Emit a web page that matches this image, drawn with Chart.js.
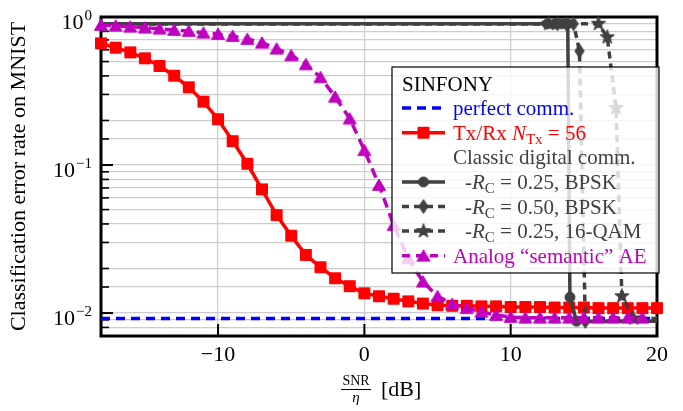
<!DOCTYPE html>
<html>
<head>
<meta charset="utf-8">
<script src="https://cdn.jsdelivr.net/npm/chart.js@4.4.1/dist/chart.umd.min.js"></script>
<style>
  html, body { margin: 0; padding: 0; background: #fff; }
</style>
</head>
<body>
<canvas id="chart" width="683" height="411"></canvas>
<script>
/* ------------------------------------------------------------------ */
/* Data */
/* ------------------------------------------------------------------ */
const snrTxRx = [-18, -17, -16, -15, -14, -13, -12, -11, -10, -9, -8, -7, -6, -5, -4, -3, -2, -1, 0,
                 1, 2, 3, 4, 5, 6, 7, 8, 9, 10, 11, 12, 13, 14, 15, 16, 17, 18, 19, 20];
const errTxRx = [0.664, 0.621, 0.577, 0.526, 0.467, 0.401, 0.335, 0.268, 0.204, 0.145, 0.102, 0.0685, 0.0459,
                 0.0333, 0.0247, 0.0204, 0.0172, 0.0152, 0.0136, 0.0130, 0.0125, 0.0120, 0.0116, 0.0113,
                 0.0112, 0.0112, 0.0111, 0.0111, 0.0110, 0.0110, 0.0110, 0.0109, 0.0109, 0.0109, 0.0108,
                 0.0108, 0.0108, 0.0108, 0.0108];

const snrAnalog = [-18, -17, -16, -15, -14, -13, -12, -11, -10, -9, -8, -7, -6, -5, -4, -3, -2, -1, 0,
                   1, 2, 3, 4, 5, 6, 7, 8, 9, 10, 11, 12, 13, 14, 15, 16, 17, 18, 19];
const errAnalog = [0.883, 0.873, 0.860, 0.847, 0.834, 0.817, 0.804, 0.783, 0.767, 0.744, 0.710, 0.670, 0.611,
                   0.551, 0.479, 0.392, 0.289, 0.206, 0.126, 0.0733, 0.0393, 0.0235, 0.0163, 0.0130, 0.0115,
                   0.0108, 0.0102, 0.0097, 0.0094, 0.0093, 0.0093, 0.0093, 0.0093, 0.0093, 0.0093, 0.0093,
                   0.0093, 0.0093];

const snrPerfect = [-18, 20];
const errPerfect = [0.0092, 0.0092];

const snrBpsk025 = [-18, 12.5, 13.0, 13.5, 13.9, 14.05, 14.5, 20];
const errBpsk025 = [0.9, 0.9, 0.9, 0.9, 0.9, 0.0128, 0.0088, 0.0088];

const snrBpsk050 = [-18, 13.2, 13.8, 14.3, 14.7, 15.1, 20];
const errBpsk050 = [0.9, 0.9, 0.9, 0.9, 0.589, 0.0088, 0.0088];

const snrQam = [-18, 12.6, 16.0, 16.6, 17.2, 17.6, 18.4, 20];
const errQam = [0.9, 0.9, 0.9, 0.73, 0.243, 0.013, 0.0092, 0.0092];

const xTicks = [-10, 0, 10, 20];
const xTickLabels = ['\u221210', '0', '10', '20'];
const yTicks = [1, 0.1, 0.01];
const yTickExps = ['0', '\u22121', '\u22122'];

/* ------------------------------------------------------------------ */
/* Styles */
/* ------------------------------------------------------------------ */
const FONT = '"Liberation Serif", "Times New Roman", serif';
const BLUE = '#0000ff';
const RED = '#ff0000';
const MAGENTA = '#bf00bf';
const GRAY = '#404040';

// Marker images (matplotlib-like filled markers)
const makeMarker = (shape, color) => {
   const c = document.createElement('canvas');
   c.width = 18; c.height = 18;
   const g = c.getContext('2d');
   g.fillStyle = color;
   g.strokeStyle = color;
   g.lineWidth = 1;
   g.translate(9, 9);
   g.beginPath();
   if (shape === 'square') {
      g.rect(-5.5, -5.5, 11, 11);
   } else if (shape === 'circle') {
      g.arc(0, 0, 5, 0, Math.PI * 2);
   } else if (shape === 'triangle') {
      g.moveTo(0, -6); g.lineTo(6.5, 5.3); g.lineTo(-6.5, 5.3); g.closePath();
   } else if (shape === 'diamond') {
      g.moveTo(0, -7); g.lineTo(4.6, 0); g.lineTo(0, 7); g.lineTo(-4.6, 0); g.closePath();
   } else if (shape === 'star') {
      for (let i = 0; i < 10; i++) {
         const r = i % 2 === 0 ? 7.5 : 3.1;
         const a = -Math.PI / 2 + i * Math.PI / 5;
         if (i === 0) g.moveTo(r * Math.cos(a), r * Math.sin(a));
         else g.lineTo(r * Math.cos(a), r * Math.sin(a));
      }
      g.closePath();
   }
   g.fill();
   g.stroke();
   return c;
};

const mkSquare = makeMarker('square', RED);
const mkTriangle = makeMarker('triangle', MAGENTA);
const mkCircle = makeMarker('circle', GRAY);
const mkDiamond = makeMarker('diamond', GRAY);
const mkStar = makeMarker('star', GRAY);

const toPoints = (xs, ys) => xs.map((x, i) => ({ x: x, y: ys[i] }));

// digital curves: no marker on the two end points
const innerRadius = (ctx) => {
   const n = ctx.dataset.data.length;
   return (ctx.dataIndex === 0 || ctx.dataIndex === n - 1) ? 0 : 5;
};

/* ------------------------------------------------------------------ */
/* Plugin: frame, inward ticks, tick labels, axis labels, legend */
/* ------------------------------------------------------------------ */
const drawRich = (ctx, parts, x, y, color) => {
   ctx.fillStyle = color;
   ctx.textAlign = 'left';
   ctx.textBaseline = 'alphabetic';
   parts.forEach(p => {
      let size = p.sub ? 15 : 21;
      ctx.font = (p.italic ? 'italic ' : '') + size + 'px ' + FONT;
      ctx.fillText(p.t, x, y + (p.sub ? 4 : 0));
      x += ctx.measureText(p.t).width;
   });
};

const figurePlugin = {
   id: 'figure',
   beforeDatasetsDraw(chart) {
      const { ctx, chartArea: a, scales } = chart;
      ctx.save();
      // inward ticks
      ctx.strokeStyle = '#000';
      scales.y.ticks.forEach(t => {
         const py = scales.y.getPixelForValue(t.value);
         const major = yTicks.includes(t.value);
         ctx.lineWidth = major ? 2 : 1.6;
         ctx.beginPath();
         ctx.moveTo(a.left, py);
         ctx.lineTo(a.left + (major ? 12 : 8), py);
         ctx.stroke();
      });
      xTicks.forEach(v => {
         const px = scales.x.getPixelForValue(v);
         ctx.lineWidth = 2;
         ctx.beginPath();
         ctx.moveTo(px, a.bottom);
         ctx.lineTo(px, a.bottom - 12);
         ctx.stroke();
      });
      // frame
      ctx.lineWidth = 3;
      ctx.strokeRect(a.left, a.top, a.right - a.left, a.bottom - a.top);

      // tick labels
      ctx.fillStyle = '#000';
      ctx.font = '22px ' + FONT;
      ctx.textAlign = 'center';
      ctx.textBaseline = 'alphabetic';
      xTicks.forEach((v, i) => {
         ctx.fillText(xTickLabels[i], scales.x.getPixelForValue(v), a.bottom + 25);
      });
      yTicks.forEach((v, i) => {
         const py = scales.y.getPixelForValue(v);
         ctx.textAlign = 'right';
         ctx.font = '15px ' + FONT;
         ctx.fillText(yTickExps[i], 92, py + 3);
         const w = ctx.measureText(yTickExps[i]).width;
         ctx.font = '22px ' + FONT;
         ctx.fillText('10', 92 - w - 1, py + 12);
      });

      // y label
      ctx.save();
      ctx.translate(25, (a.top + a.bottom) / 2);
      ctx.rotate(-Math.PI / 2);
      ctx.textAlign = 'center';
      ctx.font = '22px ' + FONT;
      ctx.fillText('Classification error rate on MNIST', 0, 0);
      ctx.restore();

      // x label: SNR / eta [dB]
      ctx.textAlign = 'center';
      ctx.font = '14px ' + FONT;
      ctx.fillText('SNR', 356, 385);
      ctx.lineWidth = 1;
      ctx.beginPath();
      ctx.moveTo(341, 389.5);
      ctx.lineTo(371, 389.5);
      ctx.stroke();
      ctx.font = 'italic 15px ' + FONT;
      ctx.fillText('\u03b7', 356, 402);
      ctx.textAlign = 'left';
      ctx.font = '22px ' + FONT;
      ctx.fillText('[dB]', 381, 396);
      ctx.restore();
   },
   afterDatasetsDraw(chart) {
      const { ctx, chartArea: a } = chart;
      const box = { left: 392, top: 67, right: a.right + 2, bottom: 273 };
      ctx.save();
      ctx.fillStyle = 'rgba(255,255,255,0.8)';
      ctx.fillRect(box.left, box.top, box.right - box.left, box.bottom - box.top);
      ctx.strokeStyle = '#000';
      ctx.lineWidth = 1.2;
      ctx.strokeRect(box.left, box.top, box.right - box.left, box.bottom - box.top);

      const rowY = (i) => 83.5 + i * 24.6;
      const hx0 = 402, hx1 = 445, hxm = 423.5;
      const handle = (i, color, dash, marker) => {
         const y = rowY(i);
         ctx.strokeStyle = color;
         ctx.lineWidth = 3.5;
         ctx.setLineDash(dash);
         ctx.beginPath();
         ctx.moveTo(hx0, y);
         ctx.lineTo(hx1, y);
         ctx.stroke();
         ctx.setLineDash([]);
         if (marker) ctx.drawImage(marker, hxm - marker.width / 2, y - marker.height / 2);
      };

      drawRich(ctx, [{ t: 'SINFONY' }], 402, rowY(0) + 7, '#000');

      handle(1, BLUE, [9, 6], null);
      drawRich(ctx, [{ t: 'perfect comm.' }], 453, rowY(1) + 7, BLUE);

      handle(2, RED, [], mkSquare);
      drawRich(ctx, [{ t: 'Tx/Rx ' }, { t: 'N', italic: true }, { t: 'Tx', sub: true }, { t: ' = 56' }],
         453, rowY(2) + 7, RED);

      drawRich(ctx, [{ t: 'Classic digital comm.' }], 453, rowY(3) + 7, GRAY);

      handle(4, GRAY, [], mkCircle);
      drawRich(ctx, [{ t: '-' }, { t: 'R', italic: true }, { t: 'C', sub: true }, { t: ' = 0.25, BPSK' }],
         465, rowY(4) + 7, GRAY);

      handle(5, GRAY, [7, 5], mkDiamond);
      drawRich(ctx, [{ t: '-' }, { t: 'R', italic: true }, { t: 'C', sub: true }, { t: ' = 0.50, BPSK' }],
         465, rowY(5) + 7, GRAY);

      handle(6, GRAY, [7, 5], mkStar);
      drawRich(ctx, [{ t: '-' }, { t: 'R', italic: true }, { t: 'C', sub: true }, { t: ' = 0.25, 16-QAM' }],
         465, rowY(6) + 7, GRAY);

      handle(7, MAGENTA, [8, 6], mkTriangle);
      drawRich(ctx, [{ t: 'Analog \u201csemantic\u201d AE' }], 453, rowY(7) + 7, MAGENTA);
      ctx.restore();
   }
};

/* ------------------------------------------------------------------ */
/* Chart */
/* ------------------------------------------------------------------ */
const data = {
   datasets: [
      {
         label: 'Analog "semantic" AE',
         data: toPoints(snrAnalog, errAnalog),
         borderColor: MAGENTA,
         borderWidth: 3.5,
         borderDash: [10, 6],
         pointStyle: mkTriangle,
         pointRadius: 5
      },
      {
         label: '-RC = 0.25, 16-QAM',
         data: toPoints(snrQam, errQam),
         borderColor: GRAY,
         borderWidth: 3.5,
         borderDash: [7, 5],
         pointStyle: mkStar,
         pointRadius: innerRadius
      },
      {
         label: '-RC = 0.50, BPSK',
         data: toPoints(snrBpsk050, errBpsk050),
         borderColor: GRAY,
         borderWidth: 3.5,
         borderDash: [7, 5],
         pointStyle: mkDiamond,
         pointRadius: innerRadius
      },
      {
         label: '-RC = 0.25, BPSK',
         data: toPoints(snrBpsk025, errBpsk025),
         borderColor: GRAY,
         borderWidth: 3.5,
         pointStyle: mkCircle,
         pointRadius: innerRadius
      },
      {
         label: 'Tx/Rx NTx = 56',
         data: toPoints(snrTxRx, errTxRx),
         borderColor: RED,
         borderWidth: 3.5,
         pointStyle: mkSquare,
         pointRadius: 5
      },
      {
         label: 'perfect comm.',
         data: toPoints(snrPerfect, errPerfect),
         borderColor: BLUE,
         borderWidth: 3.5,
         borderDash: [9, 6],
         pointRadius: 0
      }
   ]
};

const config = {
   type: 'line',
   data: data,
   options: {
      responsive: false,
      animation: false,
      devicePixelRatio: 1,
      layout: { padding: { left: 0, right: 26, top: 17, bottom: 0 } },
      datasets: { line: { clip: false, fill: false, tension: 0 } },
      plugins: {
         legend: { display: false },
         tooltip: { enabled: false }
      },
      scales: {
         x: {
            type: 'linear',
            min: -18,
            max: 20,
            afterBuildTicks: (scale) => { scale.ticks = xTicks.map(v => ({ value: v })); },
            afterFit: (scale) => { scale.height = 75; },
            ticks: { display: false },
            grid: { color: '#cccccc', lineWidth: 1.2, drawTicks: false },
            border: { display: false }
         },
         y: {
            type: 'logarithmic',
            min: 0.007,
            max: 1,
            afterFit: (scale) => { scale.width = 101; },
            ticks: { display: false },
            grid: { color: '#cccccc', lineWidth: 1.2, drawTicks: false },
            border: { display: false }
         }
      }
   },
   plugins: [figurePlugin]
};

const chart = new Chart(document.querySelector('#chart'), config);
</script>
</body>
</html>
